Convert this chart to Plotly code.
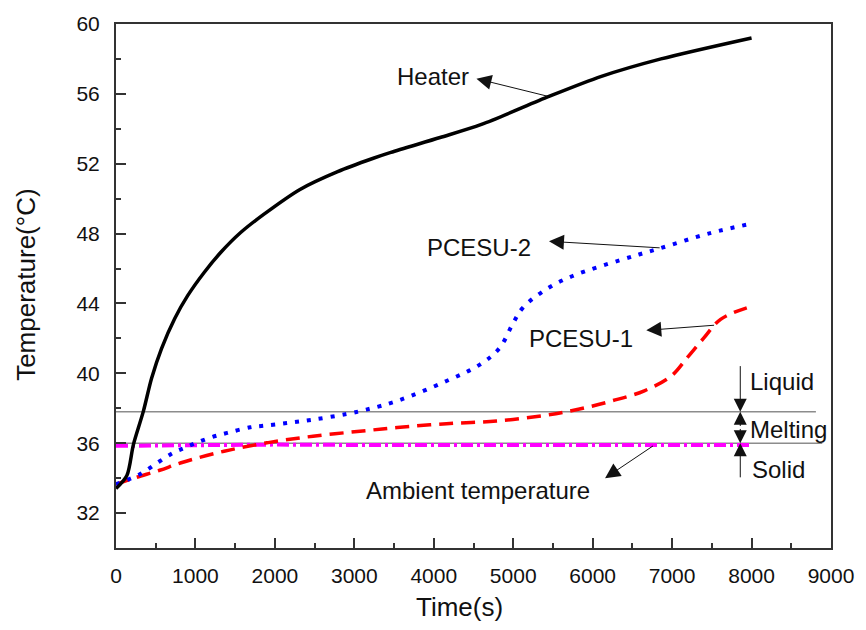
import plotly.graph_objects as go

# ---------------- data ----------------
heater_t = [0, 137, 219, 344, 448, 573, 738, 904, 1112, 1320, 1569, 1859, 2316, 2790, 3230, 3460, 4080, 4600, 5450, 6110, 6860, 8000]
heater_T = [33.4, 34.15, 35.92, 37.82, 39.72, 41.42, 43.13, 44.46, 45.79, 46.93, 48.06, 49.1, 50.53, 51.55, 52.3, 52.65, 53.5, 54.25, 55.85, 57.0, 58.0, 59.2]

pcesu2_t = [0, 300, 550, 720, 860, 1010, 1200, 1400, 1690, 1860, 2150, 2480, 2900, 3150, 3540, 4160, 4580, 4830, 4990, 5120, 5410, 5740, 6360, 6820, 7480, 7980]
pcesu2_T = [33.65, 34.22, 34.97, 35.45, 35.73, 36.02, 36.34, 36.59, 36.91, 37.0, 37.15, 37.35, 37.67, 37.92, 38.42, 39.56, 40.5, 41.46, 42.8, 43.75, 44.8, 45.56, 46.5, 47.12, 48.03, 48.55]

pcesu1_t = [0, 240, 550, 820, 1360, 1900, 2480, 3150, 3540, 4160, 4790, 5410, 5820, 6240, 6650, 6990, 7190, 7400, 7610, 7940]
pcesu1_T = [33.65, 34.02, 34.45, 34.88, 35.54, 36.02, 36.4, 36.72, 36.9, 37.12, 37.27, 37.6, 37.94, 38.42, 39.0, 39.85, 40.9, 42.03, 43.09, 43.75]

ambient_t = [0, 1000, 2000, 3000, 4000, 5000, 6000, 7000, 7980]
ambient_T = [35.85, 35.9, 35.92, 35.9, 35.88, 35.9, 35.9, 35.88, 35.9]

liquid_T = 37.8
solid_T = 36.0
liquid_line_t = [0, 8810]
solid_line_t = [0, 8890]
phase_arrow_t = 7858

x_ticks = [0, 1000, 2000, 3000, 4000, 5000, 6000, 7000, 8000, 9000]
x_minor = [500, 1500, 2500, 3500, 4500, 5500, 6500, 7500, 8500]
y_ticks = [32, 36, 40, 44, 48, 52, 56, 60]
y_minor = [30, 34, 38, 42, 46, 50, 54, 58]

FONT = "Liberation Sans, Arial, sans-serif"
TXT = "#111111"

fig = go.Figure()

# reference phase-change lines
fig.add_trace(go.Scatter(x=liquid_line_t, y=[liquid_T] * 2, mode="lines",
                         line=dict(color="#8c8c8c", width=1.5), showlegend=False, hoverinfo="skip"))
fig.add_trace(go.Scatter(x=solid_line_t, y=[solid_T] * 2, mode="lines",
                         line=dict(color="#8c8c8c", width=1.5), showlegend=False, hoverinfo="skip"))

fig.add_trace(go.Scatter(x=ambient_t, y=ambient_T, mode="lines", name="Ambient temperature",
                         line=dict(color="#ff00ff", width=4, dash="12px,4px,3px,4px"), showlegend=False))
fig.add_trace(go.Scatter(x=pcesu1_t, y=pcesu1_T, mode="lines", name="PCESU-1",
                         line=dict(color="#ff0000", width=3.5, dash="14px,8px", shape="spline", smoothing=1.0),
                         showlegend=False))
fig.add_trace(go.Scatter(x=pcesu2_t, y=pcesu2_T, mode="lines", name="PCESU-2",
                         line=dict(color="#0000ff", width=4, dash="4px,8px", shape="spline", smoothing=1.0),
                         showlegend=False))
fig.add_trace(go.Scatter(x=heater_t, y=heater_T, mode="lines", name="Heater",
                         line=dict(color="#000000", width=3.5, shape="spline", smoothing=0.8),
                         showlegend=False))

ann = []
def label(text, x, y, xanchor="center"):
    ann.append(dict(x=x, y=y, xref="x", yref="y", text=text, showarrow=False,
                    xanchor=xanchor, yanchor="middle",
                    font=dict(family=FONT, size=24, color=TXT)))

def arrow(x, y, ax, ay, size=2.6):
    ann.append(dict(x=x, y=y, ax=ax, ay=ay, xref="x", yref="y", axref="x", ayref="y",
                    text="", showarrow=True, arrowhead=2, arrowsize=size, arrowwidth=1,
                    arrowcolor="#111111", standoff=0, startstandoff=0))

label("Heater", 3989, 57.0)
arrow(4537, 56.87, 5446, 55.85, 3)
label("PCESU-2", 4574, 47.2)
arrow(5450, 47.56, 6862, 47.18, 3)
label("PCESU-1", 5855, 41.97)
arrow(6675, 42.46, 7547, 42.76, 3)
label("Ambient temperature", 4555, 33.27)
arrow(6156, 34.0, 6778, 35.9, 3)

label("Liquid", 7961, 39.53, "left")
label("Melting", 7961, 36.8, "left")
label("Solid", 7986, 34.52, "left")
mid = (liquid_T + solid_T) / 2
arrow(phase_arrow_t, liquid_T, phase_arrow_t, 40.5)
arrow(phase_arrow_t, liquid_T, phase_arrow_t, mid)
arrow(phase_arrow_t, solid_T, phase_arrow_t, mid)
arrow(phase_arrow_t, solid_T, phase_arrow_t, 33.96)

# axis titles
ann.append(dict(x=0.48, y=-0.112, xref="paper", yref="paper", text="Time(s)", showarrow=False,
                xanchor="center", yanchor="middle", font=dict(family=FONT, size=26, color=TXT)))
ann.append(dict(x=-0.126, y=0.502, xref="paper", yref="paper", text="Temperature(°C)", showarrow=False,
                textangle=-90, xanchor="center", yanchor="middle", font=dict(family=FONT, size=26, color=TXT)))

axis_common = dict(showline=True, linecolor="#333333", linewidth=2, mirror=True,
                   ticks="inside", ticklen=10, tickwidth=1.5, tickcolor="#333333",
                   showgrid=False, zeroline=False,
                   tickfont=dict(family=FONT, size=21, color=TXT))

fig.update_layout(
    width=866, height=630,
    margin=dict(l=116, r=27, t=20, b=82),
    paper_bgcolor="white", plot_bgcolor="white",
    xaxis=dict(range=[0, 9000], tickmode="array", tickvals=x_ticks, ticklabelstandoff=8,
               minor=dict(tickmode="array", tickvals=x_minor, ticks="inside", ticklen=5,
                          tickwidth=1.5, tickcolor="#333333"),
               **axis_common),
    yaxis=dict(range=[30, 60], tickmode="array", tickvals=y_ticks, ticklabelstandoff=10,
               minor=dict(tickmode="array", tickvals=y_minor, ticks="inside", ticklen=5,
                          tickwidth=1.5, tickcolor="#333333"),
               **axis_common),
    annotations=ann,
    showlegend=False,
)

fig.write_html("out.html")
